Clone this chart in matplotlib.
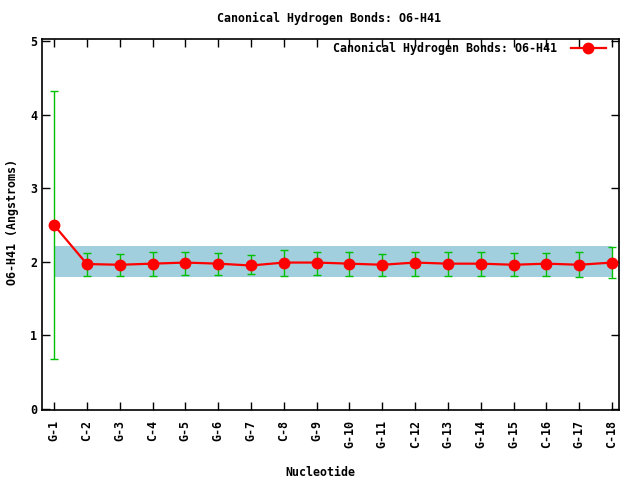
import matplotlib
matplotlib.use("Agg")
import matplotlib.pyplot as plt
import numpy as np

labels = ["G-1", "C-2", "G-3", "C-4", "G-5", "G-6", "G-7", "C-8", "G-9", "G-10",
          "G-11", "C-12", "G-13", "G-14", "G-15", "C-16", "G-17", "C-18"]
values = [2.50, 1.97, 1.96, 1.975, 1.99, 1.975, 1.95, 1.99, 1.99, 1.975,
          1.96, 1.99, 1.975, 1.975, 1.96, 1.975, 1.96, 1.99]
err_hi = [4.32, 2.115, 2.10, 2.13, 2.14, 2.115, 2.09, 2.16, 2.14, 2.13,
          2.10, 2.14, 2.13, 2.13, 2.115, 2.115, 2.13, 2.20]
err_lo = [0.68, 1.81, 1.81, 1.81, 1.82, 1.82, 1.83, 1.81, 1.82, 1.81,
          1.81, 1.81, 1.81, 1.81, 1.81, 1.81, 1.79, 1.775]
band_lo, band_hi = 1.80, 2.21

FS = 8.4
font = dict(family="DejaVu Sans Mono", weight="bold", size=FS)

fig = plt.figure(figsize=(6.4, 4.8), dpi=100)
ax = fig.add_axes([42/640, 1-410/480, (619-42)/640, (410-39)/480])

x = np.arange(1, len(labels)+1)
v = np.array(values)
hi = np.array(err_hi)
lo = np.array(err_lo)

ax.fill_between([x[0], x[-1]], band_lo, band_hi, color="#a2cfde", lw=0, zorder=1)
ax.errorbar(x, v, yerr=[v-lo, hi-v], fmt="none", ecolor="#00c000", elinewidth=1,
            capsize=3, capthick=1, zorder=2)
ax.plot(x, v, color="red", lw=1.6, marker="o", ms=7.5, mfc="red", mec="red", zorder=3,
        label="Canonical Hydrogen Bonds: O6-H41")

ax.set_xlim(0.634, 18.21)
ax.set_ylim(-0.015, 5.03)
ax.set_xticks(x)
ax.set_xticklabels(labels, rotation=90, fontdict=font)
ax.set_yticks(range(0, 6))
ax.set_yticklabels([str(i) for i in range(6)], fontdict=font)
ax.tick_params(direction="in", top=True, right=True, length=6, width=1)
ax.tick_params(axis="x", pad=7)
ax.tick_params(axis="y", pad=3.5)
for s in ax.spines.values():
    s.set_linewidth(1.2)

fig.text(0.5, 1-473/480, "Nucleotide", ha="center", va="center", **font)
fig.text(13/640, 1-222/480, "O6-H41 (Angstroms)", ha="center", va="center",
         rotation=90, **font)
fig.text(329/640, 1-18/480, "Canonical Hydrogen Bonds: O6-H41", ha="center", va="center",
         **font)

leg = ax.legend(loc="upper right", frameon=False, markerfirst=False,
                prop=dict(family="DejaVu Sans Mono", weight="bold", size=FS),
                handlelength=3.0, handletextpad=1.2, borderaxespad=0.25,
                bbox_to_anchor=(0.99, 1.0135))

fig.savefig("out.png", dpi=100)
